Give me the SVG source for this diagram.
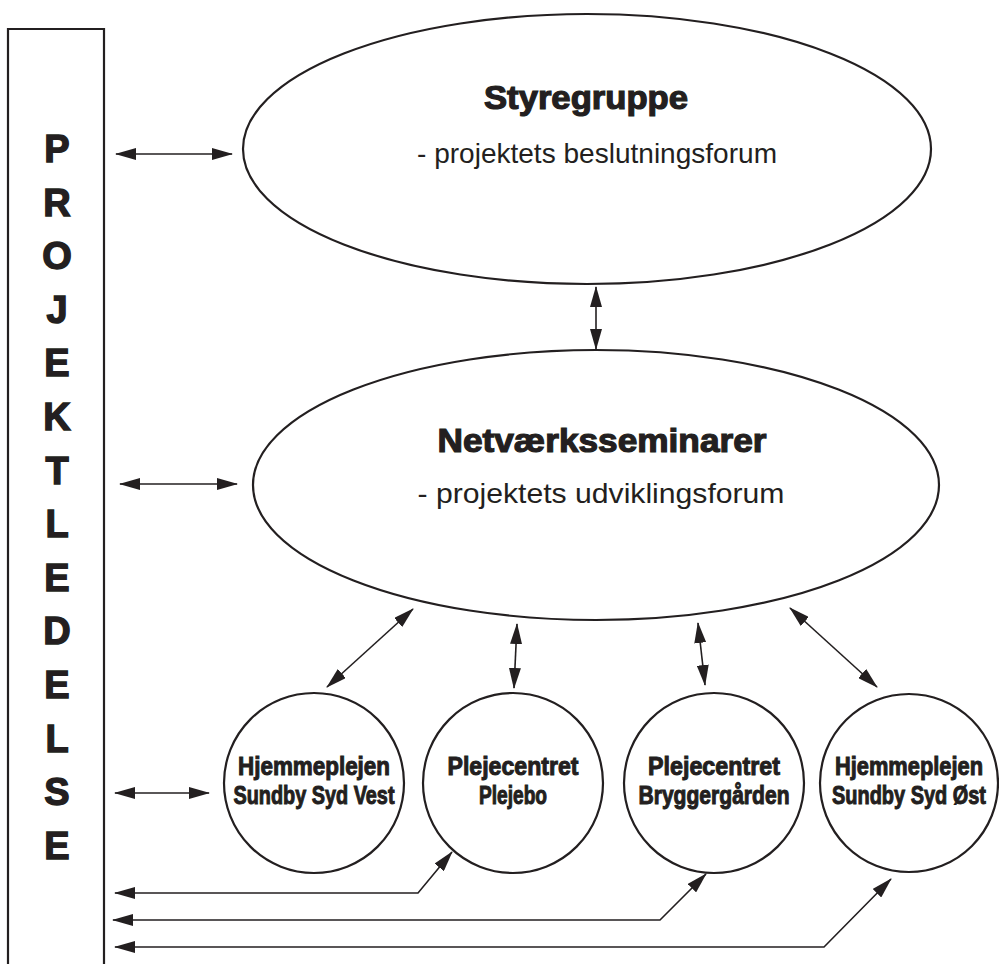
<svg xmlns="http://www.w3.org/2000/svg" width="999" height="964" viewBox="0 0 999 964">
<style>
.shape{fill:#fff;stroke:#231f20;stroke-width:2.2}
.conn{fill:none;stroke:#231f20;stroke-width:1.6;marker-start:url(#ah);marker-end:url(#ah)}
.bold{font-family:"Liberation Sans Narrow","Liberation Sans",Arial,sans-serif;font-weight:bold;fill:#231f20;stroke:#231f20;stroke-width:1;text-anchor:middle}
.reg{font-family:"Liberation Sans Narrow","Liberation Sans",Arial,sans-serif;fill:#231f20;text-anchor:middle}
.letter{font-size:38px;stroke-width:1.4}
.node{font-size:25px}
.title{font-size:33px;stroke-width:1.2}
.sub{font-size:28px}
</style>
<defs>
<marker id="ah" viewBox="0 0 21 12" refX="20" refY="6" markerWidth="21" markerHeight="12" markerUnits="userSpaceOnUse" orient="auto-start-reverse">
<path d="M0,0 L21,6 L0,12 z" fill="#231f20"/>
</marker>
</defs>
<rect width="999" height="964" fill="#fff"/>

<g id="projektledelse">
<path class="shape" d="M8,970 L8,29 L104,29 L104,970" fill="none"/>
<g class="bold letter">
<text x="57" y="162">P</text>
<text x="57" y="216">R</text>
<text x="57" y="269">O</text>
<text x="57" y="323">J</text>
<text x="57" y="376">E</text>
<text x="57" y="430">K</text>
<text x="57" y="484">T</text>
<text x="57" y="537">L</text>
<text x="57" y="591">E</text>
<text x="57" y="644">D</text>
<text x="57" y="698">E</text>
<text x="57" y="752">L</text>
<text x="57" y="805">S</text>
<text x="57" y="859">E</text>
</g>
</g>

<g id="styregruppe">
<ellipse class="shape" cx="587" cy="149" rx="344" ry="135"/>
<text class="bold title" x="586" y="109" textLength="204" lengthAdjust="spacingAndGlyphs">Styregruppe</text>
<text class="reg sub" x="597" y="163" textLength="360" lengthAdjust="spacingAndGlyphs">- projektets beslutningsforum</text>
</g>

<g id="netvaerksseminarer">
<ellipse class="shape" cx="596" cy="485" rx="343" ry="135"/>
<text class="bold title" x="602" y="452" textLength="329" lengthAdjust="spacingAndGlyphs">Netværksseminarer</text>
<text class="reg sub" x="601" y="503" textLength="367" lengthAdjust="spacingAndGlyphs">- projektets udviklingsforum</text>
</g>

<g id="hjemmeplejen-vest">
<circle class="shape" cx="314" cy="783" r="90"/>
<text class="bold node" x="314" y="775" textLength="152" lengthAdjust="spacingAndGlyphs">Hjemmeplejen</text>
<text class="bold node" x="314" y="804" textLength="161" lengthAdjust="spacingAndGlyphs">Sundby Syd Vest</text>
</g>

<g id="plejebo">
<circle class="shape" cx="513" cy="783" r="90"/>
<text class="bold node" x="513" y="775" textLength="131" lengthAdjust="spacingAndGlyphs">Plejecentret</text>
<text class="bold node" x="513" y="804" textLength="68" lengthAdjust="spacingAndGlyphs">Plejebo</text>
</g>

<g id="bryggergaarden">
<circle class="shape" cx="714" cy="783" r="90"/>
<text class="bold node" x="714" y="775" textLength="132" lengthAdjust="spacingAndGlyphs">Plejecentret</text>
<text class="bold node" x="714" y="804" textLength="151" lengthAdjust="spacingAndGlyphs">Bryggergården</text>
</g>

<g id="hjemmeplejen-oest">
<circle class="shape" cx="909" cy="783" r="89"/>
<text class="bold node" x="909" y="775" textLength="148" lengthAdjust="spacingAndGlyphs">Hjemmeplejen</text>
<text class="bold node" x="909" y="804" textLength="154" lengthAdjust="spacingAndGlyphs">Sundby Syd Øst</text>
</g>

<g id="connectors">
<path class="conn" d="M116,154 L232,154"/>
<path class="conn" d="M120,484 L237,484"/>
<path class="conn" d="M115,793 L209,793"/>
<path class="conn" d="M596,287 L596,349"/>
<path class="conn" d="M413,609 L327,687"/>
<path class="conn" d="M517,624 L514,688"/>
<path class="conn" d="M698,623 L705,685"/>
<path class="conn" d="M790,608 L877,687"/>
<path class="conn" d="M452,852 L418,893 L115,893"/>
<path class="conn" d="M706,874 L660,920 L113,920"/>
<path class="conn" d="M891,879 L824,947 L115,947"/>
</g>
</svg>
